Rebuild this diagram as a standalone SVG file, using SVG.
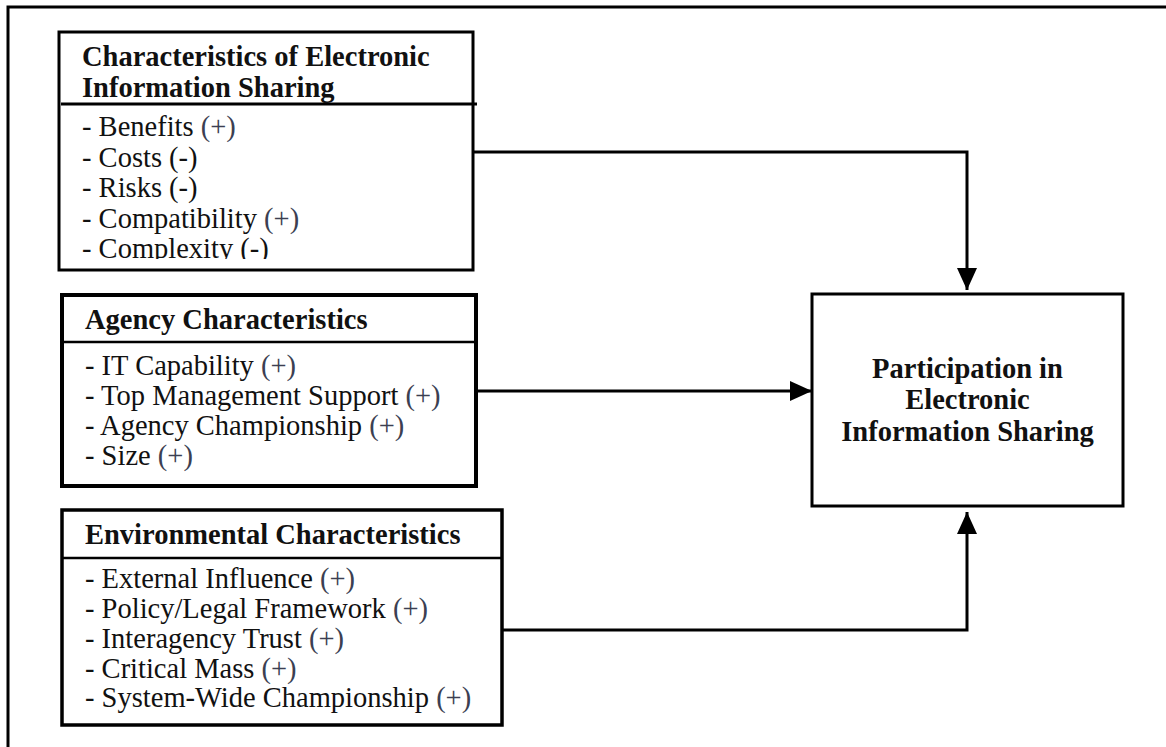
<svg xmlns="http://www.w3.org/2000/svg" width="1166" height="747" viewBox="0 0 1166 747">
  <style>
    .box { fill: #ffffff; stroke: #000000; }
    .rule { stroke: #000000; }
    .title { font-family: "Liberation Serif", "Times New Roman", serif; font-weight: bold; font-size: 28.5px; fill: #111111; }
    .item { font-family: "Liberation Serif", "Times New Roman", serif; font-size: 28.5px; fill: #111111; }
    .sign { fill: #3c3f52; }
    .wire { fill: none; stroke: #000000; stroke-width: 3; }
  </style>
  <defs>
    <marker id="head" viewBox="0 0 22 20" refX="22" refY="10" markerWidth="22" markerHeight="20" markerUnits="userSpaceOnUse" orient="auto">
      <path d="M0,0 L22,10 L0,20 Z" fill="#000000"/>
    </marker>
    <clipPath id="clip-eis">
      <rect x="60" y="105" width="412" height="154"/>
    </clipPath>
  </defs>

  <rect width="1166" height="747" fill="#ffffff"/>

  <!-- page frame (open on right and bottom) -->
  <path d="M8,747 L8,7 L1166,7" fill="none" stroke="#000000" stroke-width="3"/>

  <!-- connectors -->
  <g id="connectors">
    <path class="wire" d="M473,152 L967,152 L967,290" marker-end="url(#head)"/>
    <path class="wire" d="M476,391 L812,391" marker-end="url(#head)"/>
    <path class="wire" d="M502,630 L967,630 L967,512" marker-end="url(#head)"/>
  </g>

  <!-- factor: electronic information sharing -->
  <g id="node-eis">
    <rect class="box" x="59" y="32" width="414" height="238" stroke-width="3"/>
    <line class="rule" x1="61" y1="104" x2="477" y2="104" stroke-width="3"/>
    <text class="title" x="82" y="66">Characteristics of Electronic</text>
    <text class="title" x="82" y="97">Information Sharing</text>
    <g clip-path="url(#clip-eis)">
      <text class="item" x="82" y="136">- Benefits <tspan class="sign">(+)</tspan></text>
      <text class="item" x="82" y="166.5">- Costs (-)</text>
      <text class="item" x="82" y="197">- Risks (-)</text>
      <text class="item" x="82" y="227.5">- Compatibility <tspan class="sign">(+)</tspan></text>
      <text class="item" x="82" y="258">- Complexity (-)</text>
    </g>
  </g>

  <!-- factor: agency -->
  <g id="node-agency">
    <rect class="box" x="62" y="295" width="414" height="191" stroke-width="4"/>
    <line class="rule" x1="62" y1="342" x2="476" y2="342" stroke-width="2.5"/>
    <text class="title" x="85" y="329">Agency Characteristics</text>
    <text class="item" x="85" y="375">- IT Capability <tspan class="sign">(+)</tspan></text>
    <text class="item" x="85" y="405">- Top Management Support <tspan class="sign">(+)</tspan></text>
    <text class="item" x="85" y="435">- Agency Championship <tspan class="sign">(+)</tspan></text>
    <text class="item" x="85" y="465">- Size <tspan class="sign">(+)</tspan></text>
  </g>

  <!-- factor: environment -->
  <g id="node-environment">
    <rect class="box" x="62" y="510" width="440" height="215" stroke-width="3.5"/>
    <line class="rule" x1="62" y1="558" x2="502" y2="558" stroke-width="2.5"/>
    <text class="title" x="85" y="544">Environmental Characteristics</text>
    <text class="item" x="85" y="588">- External Influence <tspan class="sign">(+)</tspan></text>
    <text class="item" x="85" y="618">- Policy/Legal Framework <tspan class="sign">(+)</tspan></text>
    <text class="item" x="85" y="648">- Interagency Trust <tspan class="sign">(+)</tspan></text>
    <text class="item" x="85" y="678">- Critical Mass <tspan class="sign">(+)</tspan></text>
    <text class="item" x="85" y="707">- System-Wide Championship <tspan class="sign">(+)</tspan></text>
  </g>

  <!-- outcome -->
  <g id="node-participation">
    <rect class="box" x="812" y="294" width="311" height="212" stroke-width="3"/>
    <text class="title" x="967.5" y="378" text-anchor="middle">Participation in</text>
    <text class="title" x="967.5" y="409" text-anchor="middle">Electronic</text>
    <text class="title" x="967.5" y="440.5" text-anchor="middle">Information Sharing</text>
  </g>
</svg>
